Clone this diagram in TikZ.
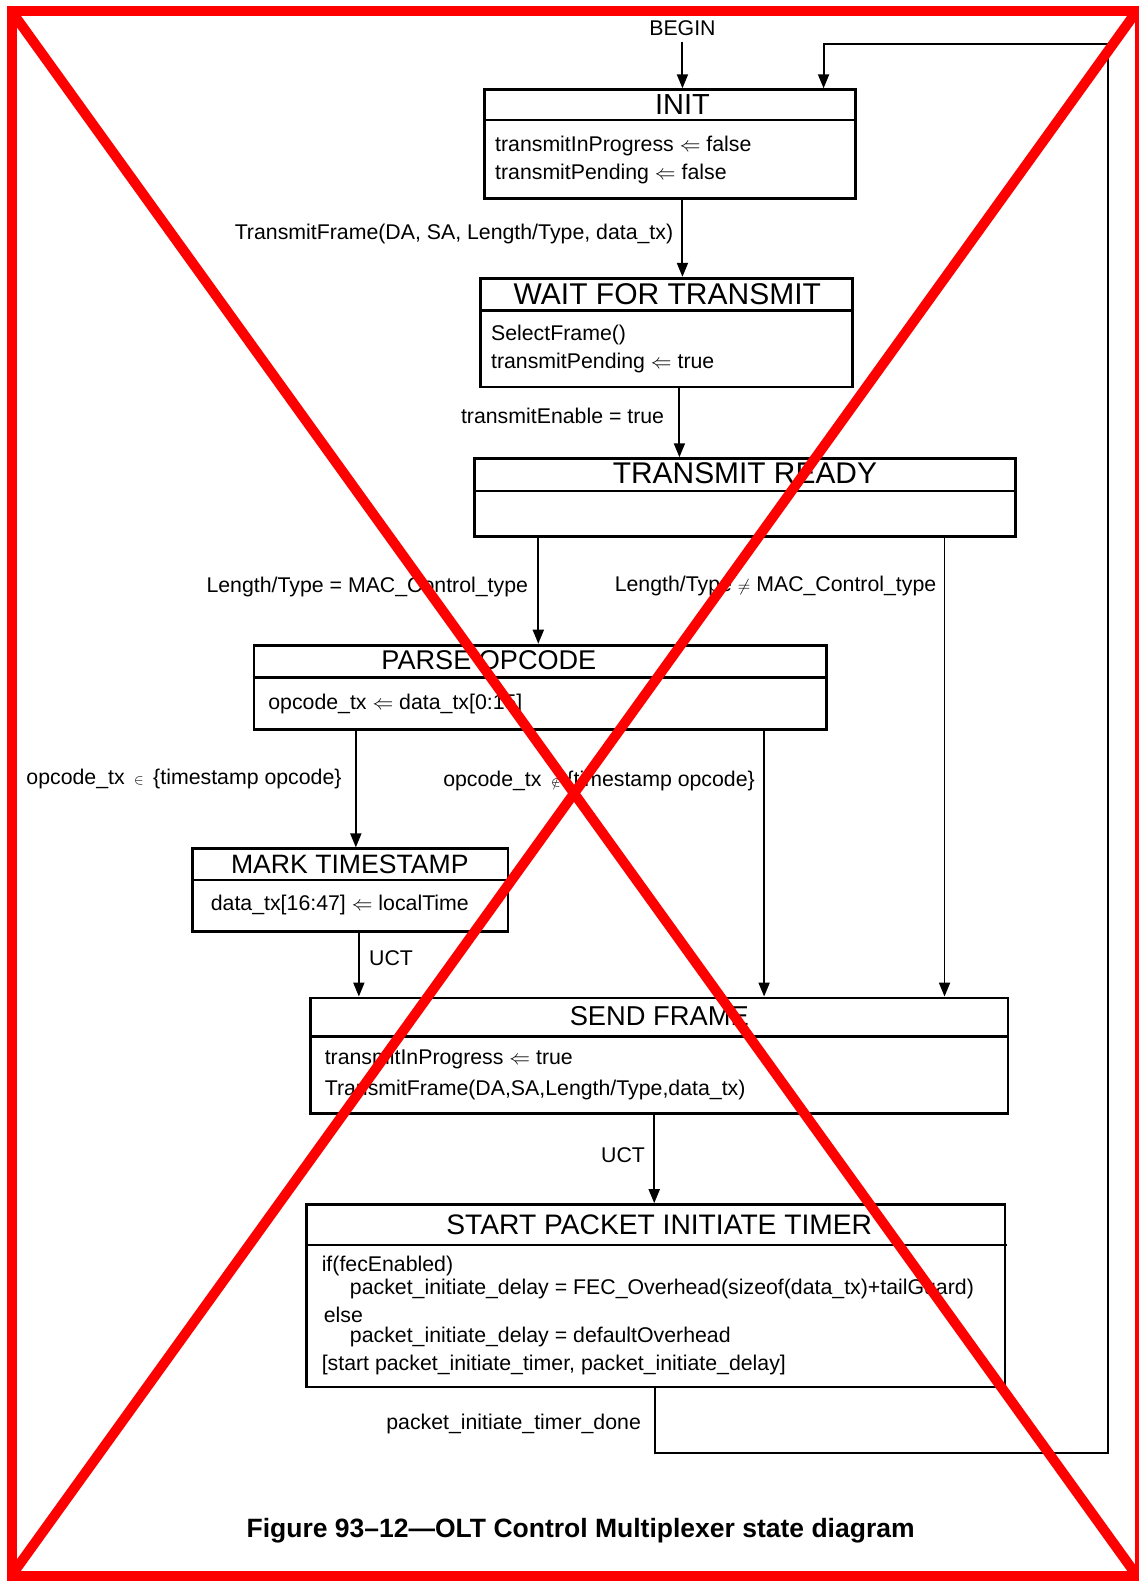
\documentclass[tikz,border=0pt]{standalone}
\usepackage{fontspec}
\setmainfont{Liberation Sans}
\usetikzlibrary{arrows.meta,fit}
% small symbols used inside the state actions and guards
\newcommand\assignarrow{{\fontsize{21}{21}\selectfont$\Leftarrow$}}
\newcommand\isin{\,{\fontsize{14}{14}\selectfont$\in$}\,}
\newcommand\isnotin{\,{\fontsize{14}{14}\selectfont$\notin$}}
\newcommand\noteq{{\fontsize{16}{16}\selectfont$\neq$}}
\begin{document}
\begin{tikzpicture}[x=1.008pt,y=-1.008pt,
  statebox/.style={draw, line width=2.8pt, inner sep=0pt},
  divider/.style={line width=2.5pt},
  title/.style={inner sep=0pt, text height=20pt, text depth=0pt, anchor=center,
    font=\fontsize{#1}{#1}\selectfont},
  title/.default=29,
  body/.style={inner sep=0pt, text height=15.2pt, text depth=0pt, anchor=west,
    font=\fontsize{21.3}{25}\selectfont},
  lbl/.style={body, anchor=east},
  arr/.style={line width=1.9pt, -{Triangle[length=14pt,width=11pt]}},
  cross/.style={red, line width=10pt}
]
\useasboundingbox (0,0) rectangle (1129,1568.4);

% ---- states ----
\node[statebox, fit={(481,89) (849,197)}] (init) {};
\draw[divider] (init.west |- 0,119) -- (init.east |- 0,119);
\node[title=29] (initT) at (677,104) {INIT};
\node[body] (initA) at (491,143) {transmitInProgress \assignarrow{} false};
\node[body] (initB) at (491,171) {transmitPending \assignarrow{} false};

\node[statebox, fit={(477,276) (846,384)}] (wait) {};
\draw[divider] (wait.west |- 0,308) -- (wait.east |- 0,308);
\node[title=30] (waitT) at (662,292) {WAIT FOR TRANSMIT};
\node[body] (waitA) at (487,330) {SelectFrame()};
\node[body] (waitB) at (487,358) {transmitPending \assignarrow{} true};

\node[statebox, fit={(471,455) (1007,532)}] (ready) {};
\draw[divider] (ready.west |- 0,487) -- (ready.east |- 0,487);
\node[title=29.9] (readyT) at (739,470) {TRANSMIT READY};

\node[statebox, fit={(252,640) (820,724)}] (parse) {};
\draw[divider] (parse.west |- 0,672) -- (parse.east |- 0,672);
\node[title=27.1] (parseT) at (485,654) {PARSE OPCODE};
\node[body] (parseA) at (266,696) {opcode\_tx \assignarrow{} data\_tx[0:15]};

\node[statebox, fit={(191,842) (504,924)}] (mark) {};
\draw[divider] (mark.west |- 0,873) -- (mark.east |- 0,873);
\node[title=26.6] (markT) at (347,857) {MARK TIMESTAMP};
\node[body] (markA) at (209,896) {data\_tx[16:47] \assignarrow{} localTime};

\node[statebox, fit={(308,990) (1000,1105)}] (send) {};
\draw[divider] (send.west |- 0,1028) -- (send.east |- 0,1028);
\node[title=27.3] (sendT) at (654,1007) {SEND FRAME};
\node[body] (sendA) at (322,1048) {transmitInProgress \assignarrow{} true};
\node[body] (sendB) at (322,1079) {TransmitFrame(DA,SA,Length/Type,data\_tx)};

\node[statebox, fit={(304,1195) (997,1376)}] (start) {};
\draw[divider] (start.west |- 0,1235) -- (999,1235);
\node[title=28.2] (startT) at (654,1215) {START PACKET INITIATE TIMER};
\node[body] (startA) at (319,1254) {if(fecEnabled)};
\node[body] (startB) at (347,1277) {packet\_initiate\_delay = FEC\_Overhead(sizeof(data\_tx)+tailGuard)};
\node[body] (startC) at (321,1304) {else};
\node[body] (startD) at (347,1324) {packet\_initiate\_delay = defaultOverhead};
\node[body] (startE) at (319,1352) {[start packet\_initiate\_timer, packet\_initiate\_delay]};

% ---- entry ----
\node[body, anchor=center] (begin) at (677,28) {BEGIN};
\draw[arr] (begin.south |- 0,42) -- (init.north -| begin);

% ---- transitions ----
\draw[arr] (init.south -| 677,0) -- (wait.north -| 677,0);
\node[lbl] (tfLbl) at (668,230) {TransmitFrame(DA, SA, Length/Type, data\_tx)};

\draw[arr] (wait.south -| 674,0) -- (ready.north -| 674,0);
\node[lbl] (teLbl) at (659,413) {transmitEnable = true};

\draw[arr] (ready.south -| 534,0) -- (parse.north -| 534,0);
\node[lbl] (ltEq) at (524,580) {Length/Type = MAC\_Control\_type};

\draw[arr] (ready.south -| 937,0) -- (send.north -| 937,0);
\node[lbl] (ltNe) at (929,579) {Length/Type \noteq{} MAC\_Control\_type};

\draw[arr] (parse.south -| 353,0) -- (mark.north -| 353,0);
\node[lbl] (opIn) at (339,771) {opcode\_tx \isin{} \{timestamp opcode\}};

\draw[arr] (parse.south -| 758,0) -- (send.north -| 758,0);
\node[lbl] (opOut) at (749,773) {opcode\_tx \isnotin{} \{timestamp opcode\}};

\draw[arr] (mark.south -| 356,0) -- (send.north -| 356,0);
\node[body] (uctA) at (366,950) {UCT};

\draw[arr] (send.south -| 649,0) -- (start.north -| 649,0);
\node[lbl] (uctB) at (640,1146) {UCT};

% return loop to INIT
\coordinate (loopA) at (650,1441);
\coordinate (loopB) at (1099,1441);
\coordinate (loopC) at (1099,44);
\coordinate (loopD) at (817,44);
\draw[arr] (start.south -| loopA) -- (loopA) -- (loopB) -- (loopC) -- (loopD) -- (init.north -| loopD);
\node[lbl] (doneLbl) at (636,1411) {packet\_initiate\_timer\_done};

% ---- caption ----
\node[inner sep=0pt, font=\bfseries\fontsize{26.5}{30}\selectfont] (caption) at (576,1518)
  {Figure 93--12---OLT Control Multiplexer state diagram};

% ---- red frame and cross ----
\draw[cross] (11.9,11.4) rectangle (1131,1563.5);
\draw[cross] (12,12) -- (1127,1562);
\draw[cross] (1127,12) -- (12,1562);
\end{tikzpicture}
\end{document}
